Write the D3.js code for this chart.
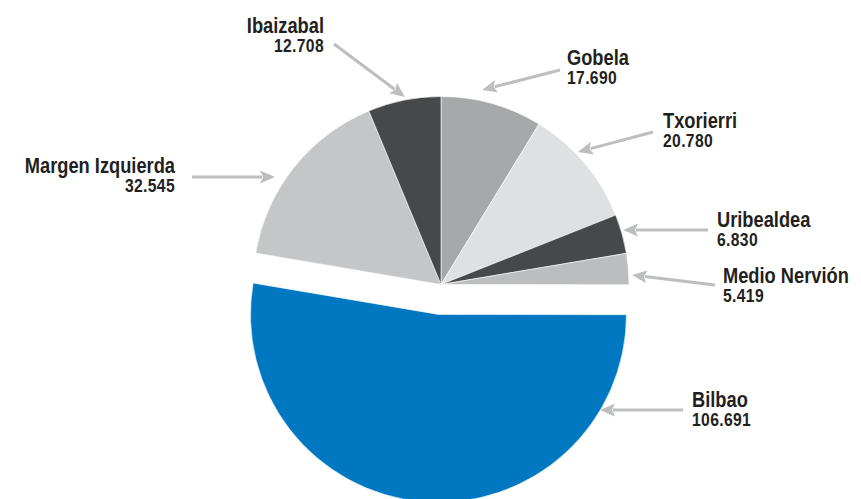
<!DOCTYPE html>
<html><head><meta charset="utf-8">
<script src="https://cdn.jsdelivr.net/npm/d3@7"></script>
<style>
html,body{margin:0;padding:0;background:#fff;}
svg{display:block;}
text{font-family:"Liberation Sans",Arial,Helvetica,sans-serif;font-weight:bold;fill:#231f20;}
</style></head>
<body>
<svg id="chart" width="861" height="499"></svg>
<script>
// Data (clockwise from 12 o'clock)
const categories = ["Gobela","Txorierri","Uribealdea","Medio Nervión","Bilbao","Margen Izquierda","Ibaizabal"];
const values = [17690, 20780, 6830, 5419, 106691, 32545, 12708];
const valueLabels = ["17.690","20.780","6.830","5.419","106.691","32.545","12.708"];
const colors = ["#a7a8aa","#dfe0e1","#47484a","#bcbdbf","#0078c1","#c5c6c8","#47484a"];
const exploded = ["Bilbao"];

// Layout (annotation positions)
const labelLayout = {
  "Gobela":          {x:567, y:65,  anchor:"start", from:[560,70],  to:[482,90]},
  "Txorierri":       {x:663, y:128, anchor:"start", from:[653,132], to:[578,152]},
  "Uribealdea":      {x:717, y:227, anchor:"start", from:[708,230], to:[623,230]},
  "Medio Nervión":   {x:723, y:283, anchor:"start", from:[715,285], to:[632,275]},
  "Bilbao":          {x:692, y:407, anchor:"start", from:[683,410], to:[600,410]},
  "Margen Izquierda":{x:175, y:173, anchor:"end",   from:[192,177], to:[275,177]},
  "Ibaizabal":       {x:324, y:33,  anchor:"end",   from:[334,44],  to:[405,97]}
};

const svg = d3.select("#chart");
const cx = 441, cy = 284.5, R = 188, explodeDist = 30;

const data = categories.map((c,i)=>({name:c, value:values[i], label:valueLabels[i], color:colors[i]}));
const pie = d3.pie().value(d=>d.value).sort(null);
const arc = d3.arc().innerRadius(0).outerRadius(R);
const arcs = pie(data);

const g = svg.append("g").attr("transform",`translate(${cx},${cy})`);
g.selectAll("path.slice").data(arcs).enter().append("path")
  .attr("class","slice")
  .attr("d",arc)
  .attr("fill",d=>d.data.color)
  .attr("stroke","#ffffff").attr("stroke-width",0.6)
  .attr("transform",d=>{
    if(!exploded.includes(d.data.name)) return null;
    const m=(d.startAngle+d.endAngle)/2;
    return `translate(${Math.sin(m)*explodeDist},${-Math.cos(m)*explodeDist})`;
  });

// Arrows and labels
const arrowColor = "#bcbec0";
const ann = svg.append("g");
data.forEach(d=>{
  const L = labelLayout[d.name];
  const [x1,y1]=L.from,[x2,y2]=L.to;
  const ang=Math.atan2(y2-y1,x2-x1);
  const hl=15, hw=6.5;
  const bx=x2-Math.cos(ang)*hl, by=y2-Math.sin(ang)*hl;
  ann.append("line").attr("x1",x1).attr("y1",y1).attr("x2",bx+Math.cos(ang)*2).attr("y2",by+Math.sin(ang)*2)
    .attr("stroke",arrowColor).attr("stroke-width",3);
  const px=-Math.sin(ang), py=Math.cos(ang);
  ann.append("path")
    .attr("d",`M${x2},${y2}L${bx+px*hw},${by+py*hw}L${bx+Math.cos(ang)*3},${by+Math.sin(ang)*3}L${bx-px*hw},${by-py*hw}Z`)
    .attr("fill",arrowColor);
  const tg = ann.append("g").attr("transform",`translate(${L.x},${L.y}) scale(0.85,1)`);
  tg.append("text").attr("x",0).attr("y",0).attr("text-anchor",L.anchor)
    .style("font-size","21.5px").text(d.name);
  tg.append("text").attr("x",0).attr("y",19).attr("text-anchor",L.anchor)
    .style("font-size","18.5px").style("letter-spacing","0.4px").text(d.label);
});
</script>
</body></html>
